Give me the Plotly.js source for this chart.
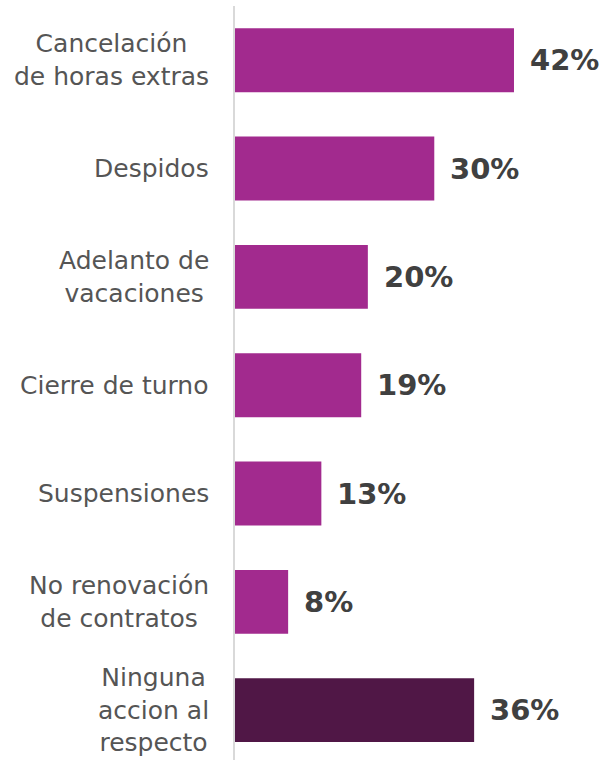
<!DOCTYPE html>
<html>
<head>
<meta charset="utf-8">
<script src="https://cdn.plot.ly/plotly-3.0.1.min.js"></script>
<style>html,body{margin:0;padding:0;background:#fff;}#chart{width:603px;height:760px;}</style>
</head>
<body>
<div id="chart"></div>
<script>
const categories = ["Cancelación<br>de horas extras", "Despidos", "Adelanto de<br>vacaciones", "Cierre de turno", "Suspensiones", "No renovación<br>de contratos", "Ninguna<br>accion al<br>respecto"];
const values = [42, 30, 20, 19, 13, 8, 36];
const valueLabels = ["42%", "30%", "20%", "19%", "13%", "8%", "36%"];
const barColors = ["#A22A8E", "#A22A8E", "#A22A8E", "#A22A8E", "#A22A8E", "#A22A8E", "#501746"];

const idx = categories.map((_, i) => i);

const trace = {
  type: "bar",
  orientation: "h",
  x: values,
  y: idx,
  width: 0.59,
  marker: {color: barColors},
  hoverinfo: "skip"
};

const annotations = [];
idx.forEach(i => {
  annotations.push({
    x: values[i], y: i, xref: "x", yref: "y",
    text: "<b>" + valueLabels[i] + "</b>",
    showarrow: false, xanchor: "left", yanchor: "middle", xshift: 14,
    font: {family: "DejaVu Sans", size: 29, color: "#404040"}
  });
  annotations.push({
    x: 0, y: i, xref: "x", yref: "y",
    text: categories[i],
    showarrow: false, xanchor: "right", yanchor: "middle", xshift: -24, align: "center",
    font: {family: "DejaVu Sans", size: 25, color: "#555555"}
  });
});

const layout = {
  width: 603, height: 760,
  margin: {l: 235, r: 0, t: 6, b: 0},
  paper_bgcolor: "#ffffff", plot_bgcolor: "#ffffff",
  showlegend: false,
  xaxis: {range: [0, 55.4], visible: false, fixedrange: true},
  yaxis: {range: [6.46, -0.5], showticklabels: false, ticks: "", showgrid: false, zeroline: false,
          showline: true, linecolor: "#D9D9D9", linewidth: 2, fixedrange: true},
  annotations: annotations,
  bargap: 0.41
};

Plotly.newPlot("chart", [trace], layout, {displayModeBar: false, staticPlot: true});
</script>
</body>
</html>
